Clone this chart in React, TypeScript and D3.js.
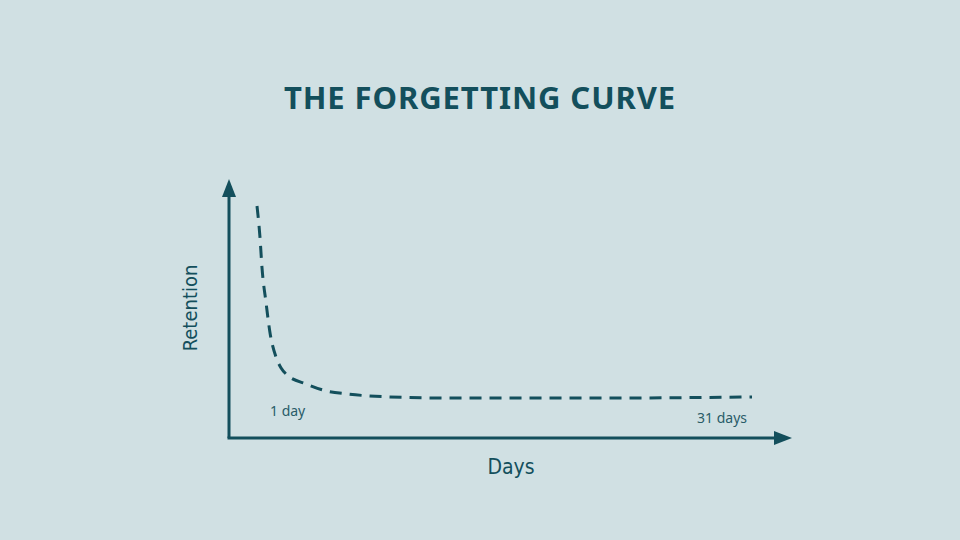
import React from 'react';
import * as d3 from 'd3';

// Forgetting curve: day vs. retention (%)
const days = [1, 1.18, 1.3, 1.55, 1.79, 2.15, 2.46, 2.82, 3.98, 5.19, 6.46, 9, 12.7, 21.8, 31];
const retention = [100, 86.6, 73.7, 58.2, 45.3, 34.9, 30.2, 27.2, 23.3, 20.3, 19.0, 17.7, 17.2, 17.2, 17.7];
const dayLabels = ['1 day', '31 days'];

const W = 960;
const H = 540;
const BG = '#d0e0e3';
const INK = '#134f5c';

const App: React.FC = () => {
  const originX = 229;
  const originY = 438;

  const x = d3.scaleLinear().domain([1, 31]).range([257, 752]);
  const y = d3.scaleLinear().domain([0, 100]).range([originY, 206]);

  const points = days.map((d, i) => [d, retention[i]] as [number, number]);
  const line = d3
    .line<[number, number]>()
    .x(d => x(d[0]))
    .y(d => y(d[1]))
    .curve(d3.curveMonotoneX);

  const handFont = '"DejaVu Sans Condensed", "DejaVu Sans", sans-serif';

  return (
    <div style={{ position: 'fixed', left: 0, top: 0, width: W, height: H }}>
      <svg width={W} height={H} style={{ display: 'block' }}>
        <rect width={W} height={H} fill={BG} />

        <text
          x={W / 2}
          y={109}
          textAnchor="middle"
          fill={INK}
          fontFamily='"Noto Sans", "Open Sans", sans-serif'
          fontWeight={700}
          fontSize={31}
          letterSpacing={0.9}
        >
          THE FORGETTING CURVE
        </text>

        {/* axes */}
        <line x1={originX} y1={originY} x2={originX} y2={196} stroke={INK} strokeWidth={3} />
        <path d={`M${originX - 7},197 L${originX},179 L${originX + 7},197 Z`} fill={INK} />
        <line x1={originX - 1.5} y1={originY} x2={776} y2={originY} stroke={INK} strokeWidth={3} />
        <path d={`M774,${originY - 7} L792,${originY} L774,${originY + 7} Z`} fill={INK} />

        {/* curve */}
        <path
          d={line(points) || ''}
          fill="none"
          stroke={INK}
          strokeWidth={3}
          strokeDasharray="12 8"
        />

        <text x={270} y={416} fill="#2a5c68" fontFamily='"Noto Sans", sans-serif' fontSize={14}>
          {dayLabels[0]}
        </text>
        <text x={747} y={423} textAnchor="end" fill="#2a5c68" fontFamily='"Noto Sans", sans-serif' fontSize={14}>
          {dayLabels[1]}
        </text>

        <text
          transform="translate(197,308) rotate(-90)"
          textAnchor="middle"
          fill={INK}
          fontFamily={handFont}
          fontSize={20}
        >
          Retention
        </text>
        <text x={511} y={474} textAnchor="middle" fill={INK} fontFamily={handFont} fontSize={21}>
          Days
        </text>
      </svg>
    </div>
  );
};

export default App;
